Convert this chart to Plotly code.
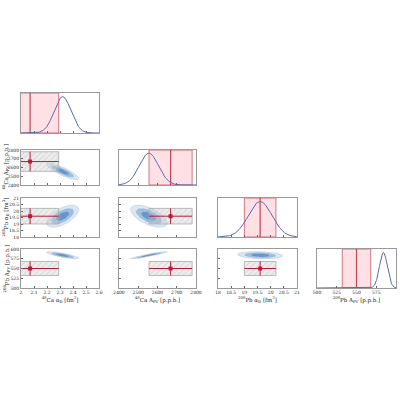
import numpy as np
import plotly.graph_objects as go

names = ["<sup>48</sup>Ca α<sub>D</sub> [fm<sup>3</sup>]", "<sup>48</sup>Ca A<sub>PV</sub> [p.p.b.]",
         "<sup>208</sup>Pb α<sub>D</sub> [fm<sup>3</sup>]", "<sup>208</sup>Pb A<sub>PV</sub> [p.p.b.]"]
ranges = [[2, 2.6], [2400, 2800], [18, 21], [500, 600]]
ticks = [[2, 2.1, 2.2, 2.3, 2.4, 2.5, 2.6], [2400, 2500, 2600, 2700, 2800],
         [18, 18.5, 19, 19.5, 20, 20.5, 21], [500, 525, 550, 575, 600]]
meas = [2.07, 2668, 19.6, 550]
meas_err = [0.22, 112, 0.6, 18]
post_mean = [2.32, 2555, 19.6, 584]
post_sd = [0.065, 50, 0.45, 5]
corr = {(1, 0): -0.85, (2, 0): 0.6, (2, 1): -0.6, (3, 0): -0.8, (3, 1): 0.95, (3, 2): -0.2}

xdom = [[21, 99], [119, 196], [218, 297], [317, 396]]
ydom = [[93, 133], [150, 185], [198, 237], [249, 288]]

fig = go.Figure()
layout = {}
annotations = []
k = 0
for i in range(4):
    for j in range(i + 1):
        k += 1
        sx = "" if k == 1 else str(k)
        xa = dict(domain=[xdom[j][0] / 400, xdom[j][1] / 400], range=ranges[j], anchor="y" + sx,
                  automargin=False,
                  showgrid=False, zeroline=False, mirror=True, showline=True, linecolor="#999", linewidth=1,
                  ticks="inside", ticklen=2, tickcolor="#666", tickvals=ticks[j],
                  showticklabels=(i == 3), tickfont=dict(size=4.5, color="#222"))
        if i == 3:
            xa["title"] = dict(text=names[j], font=dict(size=5.5), standoff=1)
        ya = dict(domain=[1 - ydom[i][1] / 400, 1 - ydom[i][0] / 400], anchor="x" + sx,
                  automargin=False,
                  showgrid=False, zeroline=False, mirror=True, showline=True, linecolor="#999", linewidth=1,
                  tickfont=dict(size=4.5, color="#222"))
        if i == j:
            ya.update(range=[0, 1.1], showticklabels=False, ticks="")
        else:
            ya.update(range=ranges[i], tickvals=ticks[i], ticks="inside", ticklen=2, tickcolor="#666",
                      showticklabels=(j == 0))
            if j == 0:
                annotations.append(dict(text=names[i], textangle=-90, font=dict(size=5.5),
                                        xref="paper", yref="paper", x=0,
                                        y=1 - (ydom[i][0] + ydom[i][1]) / 800,
                                        xanchor="left", yanchor="middle", showarrow=False))
        layout["xaxis" + sx] = xa
        layout["yaxis" + sx] = ya
        xr, yr = "x" + sx, "y" + sx
        if i == j:
            lo, hi = meas[j] - meas_err[j], meas[j] + meas_err[j]
            fig.add_trace(go.Scatter(x=[lo, hi, hi, lo, lo], y=[0, 0, 1.1, 1.1, 0], fill="toself",
                                     fillcolor="rgba(255,0,40,0.12)", line=dict(color="rgba(180,40,60,0.6)", width=1),
                                     xaxis=xr, yaxis=yr, mode="lines", showlegend=False, hoverinfo="skip"))
            fig.add_trace(go.Scatter(x=[meas[j], meas[j]], y=[0, 1.1], mode="lines",
                                     line=dict(color="rgba(180,30,50,0.8)", width=1.2),
                                     xaxis=xr, yaxis=yr, showlegend=False))
            xs = np.linspace(ranges[j][0], ranges[j][1], 300)
            ys = np.exp(-0.5 * ((xs - post_mean[j]) / post_sd[j]) ** 2)
            fig.add_trace(go.Scatter(x=xs, y=ys, mode="lines", line=dict(color="#5a6bb0", width=1),
                                     xaxis=xr, yaxis=yr, showlegend=False))
        else:
            r = corr[(i, j)]
            cov = np.array([[post_sd[j] ** 2, r * post_sd[j] * post_sd[i]],
                            [r * post_sd[j] * post_sd[i], post_sd[i] ** 2]])
            L = np.linalg.cholesky(cov)
            t = np.linspace(0, 2 * np.pi, 100)
            for rad, col in [(1.9, "rgba(215,230,243,0.9)"), (1.3, "rgba(150,188,224,0.9)"), (0.75, "rgba(100,145,198,0.9)")]:
                pts = L @ np.vstack([np.cos(t), np.sin(t)]) * rad
                fig.add_trace(go.Scatter(x=post_mean[j] + pts[0], y=post_mean[i] + pts[1], fill="toself",
                                         fillcolor=col, mode="lines", line=dict(color="rgba(90,120,180,0.4)", width=0.5),
                                         xaxis=xr, yaxis=yr, showlegend=False, hoverinfo="skip"))
            x0, x1 = meas[j] - meas_err[j], meas[j] + meas_err[j]
            y0, y1 = meas[i] - meas_err[i], meas[i] + meas_err[i]
            fig.add_trace(go.Scatter(x=[x0, x1, x1, x0, x0], y=[y0, y0, y1, y1, y0], fill="toself",
                                     fillcolor="rgba(200,200,200,0.35)",
                                     fillpattern=dict(shape="/", fgcolor="#aaa", size=4, solidity=0.2),
                                     line=dict(color="#aaa", width=0.8), mode="lines",
                                     xaxis=xr, yaxis=yr, showlegend=False, hoverinfo="skip"))
            fig.add_trace(go.Scatter(x=[meas[j]], y=[meas[i]], mode="markers",
                                     marker=dict(symbol="square", size=4, color="#b0203a"),
                                     error_x=dict(type="constant", value=meas_err[j], color="#b0203a", thickness=1, width=0),
                                     error_y=dict(type="constant", value=meas_err[i], color="#b0203a", thickness=1, width=0),
                                     xaxis=xr, yaxis=yr, showlegend=False))

fig.update_layout(**layout)
fig.update_layout(width=400, height=400, margin=dict(l=0, r=0, t=0, b=0),
                  plot_bgcolor="white", paper_bgcolor="white", annotations=annotations,
                  font=dict(family="DejaVu Serif", color="#222"))
fig.write_html("out.html", config={"displayModeBar": False},
               post_script="document.body.style.margin='0';document.body.style.overflow='hidden';")
